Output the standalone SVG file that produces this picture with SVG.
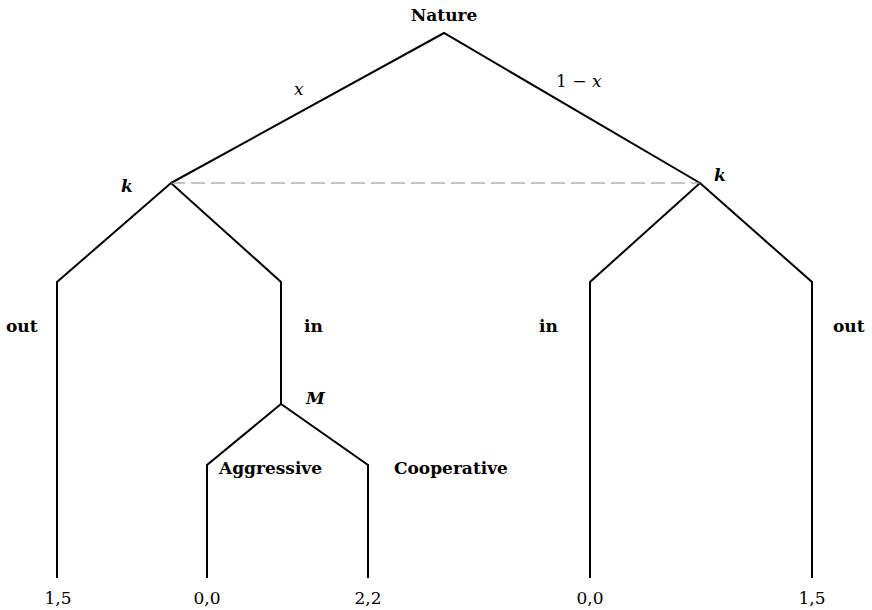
<svg xmlns="http://www.w3.org/2000/svg" width="872" height="610" viewBox="0 0 872 610">
<style>
.e{fill:none;stroke:#000;stroke-width:2;stroke-linejoin:miter}
.info{fill:none;stroke:#888;stroke-width:1.2;stroke-dasharray:14,6}
text{font-family:"DejaVu Serif","Liberation Serif",serif;font-size:17px;fill:#000}
.b{font-weight:bold}
.i{font-style:italic}
.m{text-anchor:middle}
</style>
<rect width="872" height="610" fill="#fff"/>
<g id="connectors">
<path class="e" d="M171,183 L444,33 L700,183"/>
<path class="e" d="M57,578 L57,282 L171,183 L281,282 L281,404"/>
<path class="e" d="M207,578 L207,465 L281,404 L368,465 L368,578"/>
<path class="e" d="M590,578 L590,282 L700,183 L812,282 L812,578"/>
<line class="info" x1="171" y1="183" x2="700" y2="183"/>
</g>
<g id="nature"><text class="b m" x="444" y="21">Nature</text></g>
<g id="edge-x"><text class="i" x="294" y="95">x</text></g>
<g id="edge-1mx"><text x="556" y="87">1 − <tspan class="i">x</tspan></text></g>
<g id="k-left"><text class="i b" x="121" y="192">k</text></g>
<g id="k-right"><text class="i b" x="714" y="181">k</text></g>
<g id="out-left"><text class="b" x="6" y="332">out</text></g>
<g id="in-left"><text class="b" x="304" y="332">in</text></g>
<g id="in-right"><text class="b" x="539" y="332">in</text></g>
<g id="out-right"><text class="b" x="833" y="332">out</text></g>
<g id="M"><text class="i b" x="306" y="404">M</text></g>
<g id="aggr"><text class="b" x="219" y="474">Aggressive</text></g>
<g id="coop"><text class="b" x="394" y="474">Cooperative</text></g>
<g id="p1"><text class="m" x="58" y="604">1,5</text></g>
<g id="p2"><text class="m" x="207" y="604">0,0</text></g>
<g id="p3"><text class="m" x="368" y="604">2,2</text></g>
<g id="p4"><text class="m" x="590" y="604">0,0</text></g>
<g id="p5"><text class="m" x="812" y="604">1,5</text></g>
</svg>
